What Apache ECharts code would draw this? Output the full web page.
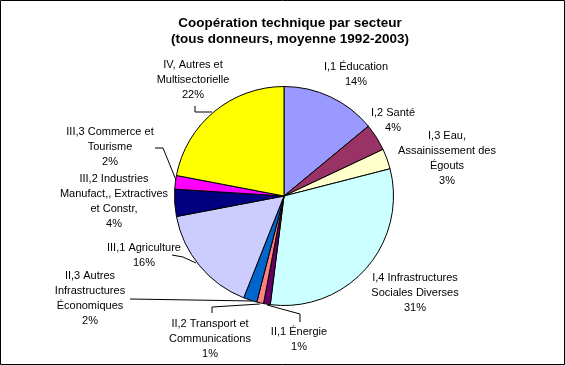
<!DOCTYPE html>
<html><head><meta charset="utf-8">
<script src="https://cdn.jsdelivr.net/npm/echarts@6/dist/echarts.min.js"></script>
<style>html,body{margin:0;padding:0;background:#fff;}#c{width:565px;height:365px;}</style>
</head><body><div id="c"></div>
<script>
const categories = [
  "I,1 Éducation",
  "I,2 Santé",
  "I,3 Eau,\nAssainissement des\nÉgouts",
  "I,4 Infrastructures\nSociales Diverses",
  "II,1 Énergie",
  "II,2 Transport et\nCommunications",
  "II,3 Autres\nInfrastructures\nÉconomiques",
  "III,1 Agriculture",
  "III,2 Industries\nManufact,, Extractives\net Constr,",
  "III,3 Commerce et\nTourisme",
  "IV, Autres et\nMultisectorielle"
];
const shares = [14, 4, 3, 31, 1, 1, 2, 16, 4, 2, 22];
const colors = ["#9999FF","#993366","#FFFFCC","#CCFFFF","#660066","#FF8080","#0066CC","#CCCCFF","#000080","#FF00FF","#FFFF00"];

// label layout (positions only)
const labelPos = [
  [356, 74.5], [393, 120], [447, 158], [415, 293], [299, 339.5],
  [210, 339], [90, 298.5], [144, 255.5], [114, 201], [110, 147], [193, 80]
];
const linePts = {
  10: [[212,112],[195,112],[195,106]],
  9: [[176,180],[163,148],[155,148]],
  7: [[196,263],[183,257],[172,255]],
  6: [[253,301],[192,300],[130,299]],
  5: [[260,304],[212,307],[212,313]],
  4: [[267,305],[300,314],[300,322]]
};

const BOXW = 140;
const chart = echarts.init(document.getElementById('c'), null, {renderer: 'canvas'});
const font = "'Liberation Sans', Arial, sans-serif";
chart.setOption({
  backgroundColor: '#ffffff',
  animation: false,
  title: {
    text: "Coopération technique par secteur\n(tous donneurs, moyenne 1992-2003)",
    left: 285, top: 10, textAlign: 'center',
    textStyle: {fontFamily: font, fontSize: 13.5, fontWeight: 'bold', color: '#000', lineHeight: 16}
  },
  graphic: [{
    type: 'rect', shape: {x: 0.5, y: 0.5, width: 564, height: 364},
    style: {fill: 'none', stroke: '#000', lineWidth: 1}, silent: true
  }],
  series: [{
    type: 'pie',
    center: [284, 196],
    radius: [0, 109.5],
    startAngle: 90,
    clockwise: true,
    avoidLabelOverlap: false,
    itemStyle: {borderColor: '#000', borderWidth: 1},
    label: {
      show: true, position: 'outside',
      fontFamily: font, fontSize: 11, color: '#000', lineHeight: 15,
      formatter: p => (p.name + '\n' + shares[p.dataIndex] + '%').split('\n').map(l => '{c|' + l + '}').join('\n'),
      rich: {c: {width: BOXW, align: 'center', fontFamily: font, fontSize: 11, color: '#000', lineHeight: 15}}
    },
    labelLine: {show: true, lineStyle: {color: '#000', width: 1}, smooth: false},
    emphasis: {disabled: true},
    labelLayout: function (params) {
      const i = params.dataIndex;
      const o = {x: labelPos[i][0], y: labelPos[i][1], align: 'center', verticalAlign: 'middle'};
      if (linePts[i]) o.labelLinePoints = linePts[i];
      return o;
    },
    data: categories.map((n, i) => ({
      name: n, value: shares[i],
      itemStyle: {color: colors[i]},
      labelLine: {show: !!linePts[i]}
    }))
  }]
});
</script></body></html>
